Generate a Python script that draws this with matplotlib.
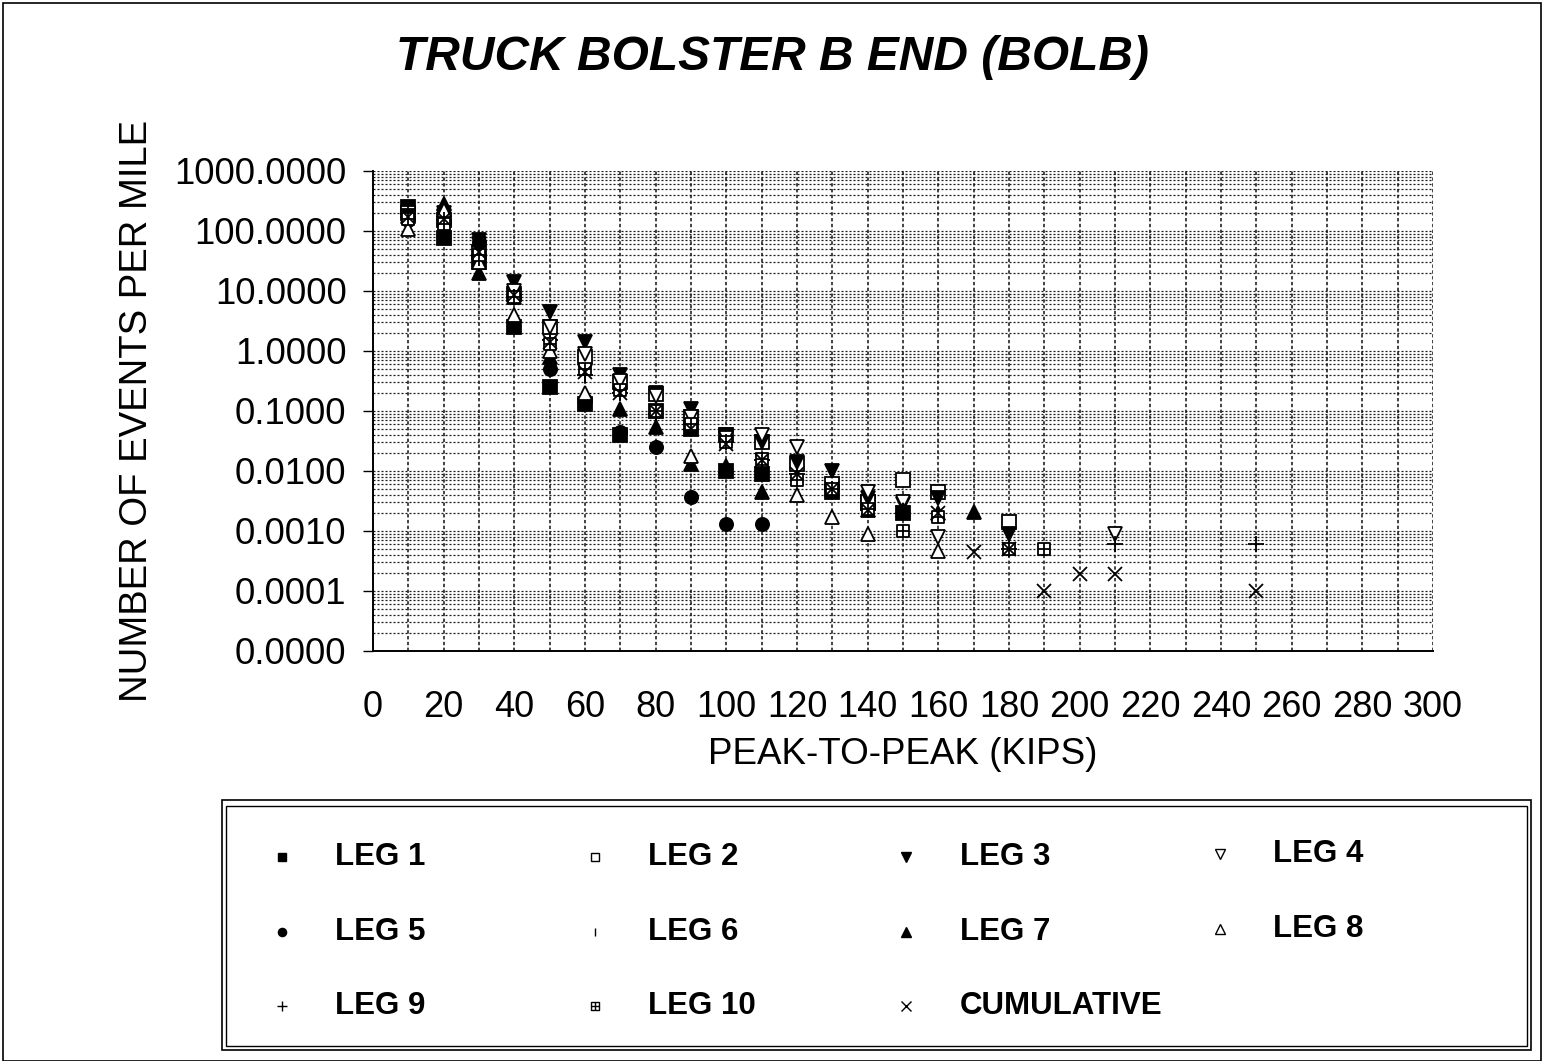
import numpy as np
import matplotlib
matplotlib.use("Agg")
import matplotlib.pyplot as plt
from matplotlib.path import Path
from matplotlib.patches import Rectangle
from matplotlib.ticker import FixedLocator, LogLocator, FuncFormatter, NullFormatter

plt.rcParams['font.family'] = ['Liberation Sans', 'DejaVu Sans']

nan = np.nan

# Peak-to-peak load bins (kips)
peak_kips = [10, 20, 30, 40, 50, 60, 70, 80, 90, 100, 110, 120, 130, 140, 150,
             160, 170, 180, 190, 200, 210, 250]

# Events per mile, one list per leg
leg1 = [250, 75, 30, 2.5, 0.25, 0.13, 0.04, 0.1, 0.05, 0.01, 0.009, nan, 0.0045,
        0.003, 0.002, nan, nan, nan, nan, nan, nan, nan]
leg2 = [200, 150, 45, 9, 2.5, 0.8, 0.3, 0.19, 0.08, 0.04, 0.03, 0.013, 0.006,
        0.003, 0.007, 0.0045, nan, 0.0014, nan, nan, nan, nan]
leg3 = [180, 200, 70, 14, 4.5, 1.4, 0.4, 0.2, 0.11, 0.04, 0.03, 0.014, 0.01,
        0.0035, 0.0028, 0.0035, nan, 0.0009, nan, nan, nan, nan]
leg4 = [150, 180, 60, 10, 2.5, 0.9, 0.32, 0.18, 0.08, 0.035, 0.04, 0.025, nan,
        0.0045, 0.003, 0.0008, nan, nan, nan, nan, 0.0009, nan]
leg5 = [150, 140, 65, 8, 0.5, 0.15, 0.045, 0.025, 0.0037, 0.0013, 0.0013, nan,
        nan, nan, nan, nan, nan, nan, nan, nan, nan, nan]
leg6 = [200, 160, 35, 8, 1.2, 0.4, 0.2, 0.09, 0.05, 0.03, 0.015, 0.009, nan,
        nan, nan, nan, nan, nan, nan, nan, nan, nan]
leg7 = [180, 280, 20, 8, 0.8, 0.18, 0.11, 0.055, 0.013, 0.012, 0.0045, nan,
        0.005, 0.0022, 0.0022, 0.002, 0.0021, nan, nan, nan, nan, nan]
leg8 = [110, 220, 30, 4, 1.0, 0.2, nan, nan, 0.018, nan, nan, 0.004, 0.0017,
        0.0009, nan, 0.00047, nan, nan, nan, nan, nan, nan]
leg9 = [170, 150, 35, 8, 1.5, 0.4, 0.2, 0.09, 0.05, 0.03, 0.015, 0.009, 0.005,
        0.0022, 0.002, nan, nan, 0.0005, nan, nan, 0.0006, 0.0006]
leg10 = [160, 130, 40, 8, 1.3, 0.5, 0.22, 0.1, 0.06, 0.03, 0.016, 0.007, 0.005,
         0.0023, 0.001, 0.0017, nan, 0.0005, 0.0005, nan, nan, nan]
cumulative = [170, 160, 45, 8.5, 1.4, 0.45, 0.2, 0.1, 0.05, 0.028, 0.015, 0.009,
              0.005, 0.0022, 0.002, 0.002, 0.00045, 0.0005, 0.0001, 0.00019,
              0.00019, 0.0001]

series_labels = ["LEG 1", "LEG 2", "LEG 3", "LEG 4", "LEG 5", "LEG 6", "LEG 7",
                 "LEG 8", "LEG 9", "LEG 10", "CUMULATIVE"]
series_values = [leg1, leg2, leg3, leg4, leg5, leg6, leg7, leg8, leg9, leg10,
                 cumulative]

y_ticks = [1e-5, 1e-4, 1e-3, 1e-2, 1e-1, 1, 10, 100, 1000]
x_ticks = list(range(0, 301, 20))

# Square with a cross inside
box_cross = Path(
    [(-1, -1), (1, -1), (1, 1), (-1, 1), (-1, -1), (0, -1), (0, 1), (-1, 0), (1, 0)],
    [Path.MOVETO, Path.LINETO, Path.LINETO, Path.LINETO, Path.CLOSEPOLY,
     Path.MOVETO, Path.LINETO, Path.MOVETO, Path.LINETO])

# marker, face colour, size
styles = [
    ("s", "black", 9.5),
    ("s", "white", 9.5),
    ("v", "black", 10.5),
    ("v", "white", 10.5),
    ("o", "black", 9.5),
    ("|", "black", 9.5),
    ("^", "black", 10.5),
    ("^", "white", 10.5),
    ("+", "black", 11.5),
    (box_cross, "white", 8.5),
    ("x", "black", 10.5),
]

W, H = 1546, 1061
fig = plt.figure(figsize=(W / 100, H / 100), dpi=100)

# outer chart frame
fig.patches.append(Rectangle((3 / W, 0), 1 - 8 / W, 1 - 3 / H, transform=fig.transFigure,
                             fill=False, edgecolor="black", linewidth=1.2))

ax = fig.add_axes([373 / W, 1 - 651 / H, (1433 - 373) / W, (651 - 171) / H])
ax.set_yscale("log")
ax.set_xlim(0, 300)
ax.set_ylim(1e-5, 1e3)

ax.xaxis.set_major_locator(FixedLocator(x_ticks))
ax.xaxis.set_minor_locator(FixedLocator(list(range(10, 301, 20))))
ax.yaxis.set_major_locator(FixedLocator(y_ticks))
ax.yaxis.set_minor_locator(LogLocator(base=10, subs=np.arange(2, 10), numticks=20))
ax.yaxis.set_major_formatter(FuncFormatter(lambda v, p: f"{v:.4f}"))
ax.yaxis.set_minor_formatter(NullFormatter())

ax.grid(True, which="both", axis="y", color="#1a1a1a", linewidth=0.9,
        linestyle=(0, (1.6, 1.6)))
ax.grid(True, which="both", axis="x", color="#111111", linewidth=1.1,
        linestyle=(0, (2.2, 1.6)))

for side in ("top", "right"):
    ax.spines[side].set_visible(False)
for side in ("left", "bottom"):
    ax.spines[side].set_linewidth(1.4)

ax.tick_params(axis="y", which="major", direction="out", length=7, width=1,
               labelsize=26.3, pad=12)
ax.tick_params(axis="x", which="major", direction="out", length=0, width=1,
               labelsize=26, pad=28)
ax.tick_params(which="minor", length=0)

for vals, (mk, fc, ms) in zip(series_values, styles):
    ax.plot(peak_kips, vals, linestyle="none", marker=mk, markersize=ms,
            markerfacecolor=fc, markeredgecolor="black", markeredgewidth=1.3,
            clip_on=False, zorder=3)

ax.set_xlabel("PEAK-TO-PEAK (KIPS)", fontsize=26.5, labelpad=9)
ax.set_ylabel("NUMBER OF EVENTS PER MILE", fontsize=27.5, labelpad=14)

fig.text(0.4994, 1 - 57 / H, "TRUCK BOLSTER B END (BOLB)", fontsize=34.5,
         fontweight="bold", fontstyle="italic", ha="center", va="center")

# legend panel
lx0, ly0, lx1, ly1 = 222, 800, 1531, 1050
fig.patches.append(Rectangle((lx0 / W, 1 - ly1 / H), (lx1 - lx0) / W, (ly1 - ly0) / H,
                             transform=fig.transFigure, fill=False,
                             edgecolor="black", linewidth=1.2))
fig.patches.append(Rectangle(((lx0 + 4) / W, 1 - (ly1 - 4) / H), (lx1 - lx0 - 8) / W,
                             (ly1 - ly0 - 10) / H, transform=fig.transFigure,
                             fill=False, edgecolor="black", linewidth=1.0))

lax = fig.add_axes([0, 0, 1, 1], facecolor="none")
lax.set_xlim(0, W)
lax.set_ylim(H, 0)
lax.axis("off")

col_marker_x = [282, 595, 906, 1220]
col_text_x = [335, 648, 960, 1273]
row_y = [857, 932, 1006]
for i, (label, (mk, fc, ms)) in enumerate(zip(series_labels, styles)):
    r, c = divmod(i, 4)
    yy = row_y[r] - (3 if c == 3 else 0)
    lax.plot([col_marker_x[c]], [yy], linestyle="none", marker=mk,
             markersize=ms * 0.62, markerfacecolor=fc, markeredgecolor="black",
             markeredgewidth=1.0)
    lax.text(col_text_x[c], yy, label, fontsize=22.5, fontweight="bold",
             ha="left", va="center")

fig.savefig("out.png", dpi=100)
